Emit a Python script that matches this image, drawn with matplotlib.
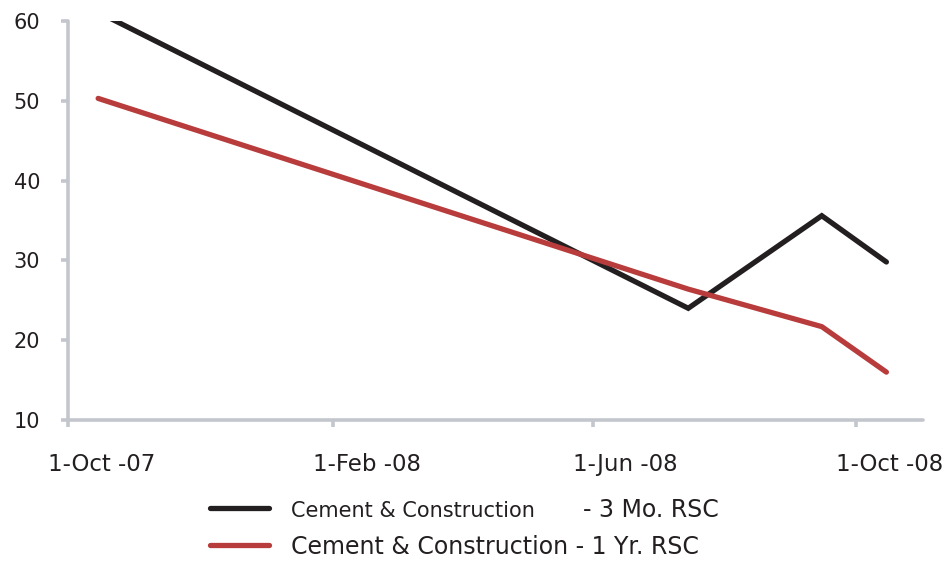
import matplotlib
matplotlib.use("Agg")
import matplotlib.pyplot as plt
import matplotlib.transforms as mtransforms
from matplotlib.lines import Line2D
import numpy as np

# Relative strength comparison for the Cement & Construction sector
dates = np.array(["2007-10-15", "2008-07-15", "2008-09-15", "2008-10-15"], dtype="datetime64[D]")
rsc_3mo = [61.1, 24.0, 35.6, 29.8]
rsc_1yr = [50.3, 26.4, 21.7, 16.0]
tick_dates = np.array(["2007-10-01", "2008-02-01", "2008-06-01", "2008-10-01"], dtype="datetime64[D]")
tick_labels = ["1-Oct -07", "1-Feb -08", "1-Jun -08", "1-Oct -08"]
y_ticks = [10, 20, 30, 40, 50, 60]

BLACK = "#231f20"
RED = "#b83c3c"
AXIS = "#c3c7cd"
TEXT = "#231f20"

W, H = 945, 561
fig = plt.figure(figsize=(W / 100, H / 100), dpi=100)
ax = fig.add_axes([68 / W, 1 - 420 / H, (923 - 68) / W, (420 - 21) / H])

ax.plot(dates, rsc_3mo, color=BLACK, lw=3.8, solid_capstyle="round", solid_joinstyle="miter")
ax.plot(dates, rsc_1yr, color=RED, lw=3.8, solid_capstyle="round", solid_joinstyle="miter")

ax.set_ylim(10, 60)
ax.set_xlim(np.datetime64("2007-10-01"), np.datetime64("2008-11-01"))

for side in ("top", "right"):
    ax.spines[side].set_visible(False)
for side in ("left", "bottom"):
    ax.spines[side].set_color(AXIS)
    ax.spines[side].set_linewidth(2.6)
    ax.spines[side].set_capstyle("round")

ax.set_yticks(y_ticks)
ax.set_yticklabels([str(v) for v in y_ticks])
ax.set_xticks(tick_dates)
ax.set_xticklabels(tick_labels)

ax.tick_params(axis="y", direction="out", length=5, width=2.6, color=AXIS,
               labelsize=15, labelcolor=TEXT, pad=15)
ax.tick_params(axis="x", direction="out", length=5, width=2.6, color=AXIS,
               labelsize=16.5, labelcolor=TEXT, pad=19)

shift = mtransforms.ScaledTranslation(-20 / 100, 0, fig.dpi_scale_trans)
for lbl in ax.get_xticklabels():
    lbl.set_horizontalalignment("left")
    lbl.set_transform(lbl.get_transform() + shift)

handles = [Line2D([], [], color=BLACK, lw=3.8, solid_capstyle="round"),
           Line2D([], [], color=RED, lw=3.8, solid_capstyle="round")]
labels = ["Cement & Construction", "Cement & Construction - 1 Yr. RSC"]
leg = fig.legend(handles, labels, loc="upper left",
                 bbox_to_anchor=(210 / W, 1 - 500 / H), frameon=False,
                 fontsize=17, handlelength=2.5, handletextpad=0.92,
                 labelspacing=0.6, borderpad=0, borderaxespad=0)
texts = leg.get_texts()
texts[0].set_fontsize(15)
for t in texts:
    t.set_color(TEXT)
fig.text(583 / W, 1 - 510 / H, "- 3 Mo. RSC", fontsize=17, color=TEXT,
         ha="left", va="center")

fig.savefig("out.png", dpi=100, facecolor="white")
